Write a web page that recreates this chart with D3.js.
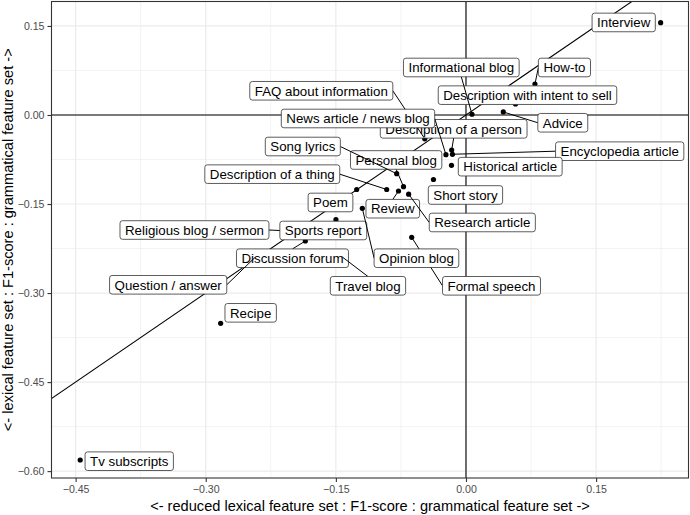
<!DOCTYPE html>
<html>
<head>
<meta charset="utf-8">
<script src="https://cdn.jsdelivr.net/npm/d3@7/dist/d3.min.js"></script>
<style>
  body { margin: 0; background: #fff; }
  text { font-family: "Liberation Sans", Arial, Helvetica, sans-serif; }
</style>
</head>
<body>
<svg id="chart" width="690" height="515"></svg>
<script>
// genres, in the order the labels are drawn
const genres = [
  "Interview", "Description with intent to sell", "Informational blog", "How-to",
  "Advice", "Description of a person", "FAQ about information", "News article / news blog",
  "Encyclopedia article", "Historical article", "Personal blog", "Song lyrics",
  "Description of a thing", "Short story", "Poem", "Review", "Research article",
  "Religious blog / sermon", "Sports report", "Formal speech", "Opinion blog",
  "Discussion forum", "Question / answer", "Travel blog", "Recipe", "Tv subscripts"
];

// F1 difference: grammatical - reduced lexical
const reducedLexDiff = [
  0.2244, 0.0571, 0.0069, 0.0795, 0.0430, -0.0165, -0.0475, -0.0231,
  -0.0156, -0.0167, -0.0720, -0.0799, -0.0914, -0.0375, -0.1260, -0.0778, -0.0661,
  -0.2006, -0.1499, -0.0626, -0.1195, -0.1852, -0.2421, -0.1441, -0.2828, -0.4447
];
// F1 difference: grammatical - lexical
const lexDiff = [
  0.1555, 0.0185, 0.0012, 0.0522, 0.0051, -0.0590, -0.0401, -0.0669,
  -0.0662, -0.0848, -0.1208, -0.0989, -0.1255, -0.1087, -0.1255, -0.1281, -0.1334,
  -0.1955, -0.1764, -0.2061, -0.1572, -0.2123, -0.2384, -0.2376, -0.3510, -0.5813
];

// where the repelled labels ended up (data units)
const labelX = [
  0.1818, 0.0709, -0.0054, 0.1135, 0.1116, -0.0142, -0.1668, -0.1245,
  0.1772, 0.0510, -0.0805, -0.1881, -0.2233, -0.0006, -0.1562, -0.0844, 0.0188,
  -0.3130, -0.1645, 0.0294, -0.0571, -0.2000, -0.3433, -0.1130, -0.2482, -0.3882
];
const labelY = [
  0.1559, 0.0334, 0.0800, 0.0800, -0.0131, -0.0233, 0.0408, -0.0059,
  -0.0610, -0.0871, -0.0758, -0.0531, -0.0997, -0.1348, -0.1474, -0.1579, -0.1811,
  -0.1938, -0.1946, -0.2878, -0.2413, -0.2413, -0.2861, -0.2878, -0.3333, -0.5833
];

const xTicks = [-0.45, -0.30, -0.15, 0.00, 0.15];
const yTicks = [0.15, 0.00, -0.15, -0.30, -0.45, -0.60];
const xMinor = [-0.375, -0.225, -0.075, 0.075, 0.225];
const yMinor = [0.075, -0.075, -0.225, -0.375, -0.525];

const data = genres.map((g, i) => ({
  genre: g,
  x: reducedLexDiff[i],
  y: lexDiff[i],
  lx: labelX[i],
  ly: labelY[i]
}));

// Base

const svg = d3.select("#chart");
const pLeft = 51.5, pRight = 688.5, pTop = 1.5, pBottom = 478;

const xScale = d3.scaleLinear().domain([-0.4778, 0.2565]).range([pLeft, pRight]);
const yScale = d3.scaleLinear().domain([-0.6116, 0.1912]).range([pBottom, pTop]);

svg.append("clipPath").attr("id", "panel-clip")
  .append("rect")
  .attr("x", pLeft).attr("y", pTop)
  .attr("width", pRight - pLeft).attr("height", pBottom - pTop);

svg.append("rect")
  .attr("x", pLeft).attr("y", pTop)
  .attr("width", pRight - pLeft).attr("height", pBottom - pTop)
  .attr("fill", "#fff");

// Grid

const grid = svg.append("g").attr("id", "grid");

grid.selectAll(".minor-x").data(xMinor).enter().append("line")
  .attr("x1", (d) => xScale(d)).attr("x2", (d) => xScale(d))
  .attr("y1", pTop).attr("y2", pBottom)
  .attr("stroke", "#ebebeb").attr("stroke-width", 0.6);

grid.selectAll(".minor-y").data(yMinor).enter().append("line")
  .attr("y1", (d) => yScale(d)).attr("y2", (d) => yScale(d))
  .attr("x1", pLeft).attr("x2", pRight)
  .attr("stroke", "#ebebeb").attr("stroke-width", 0.6);

grid.selectAll(".major-x").data(xTicks).enter().append("line")
  .attr("x1", (d) => xScale(d)).attr("x2", (d) => xScale(d))
  .attr("y1", pTop).attr("y2", pBottom)
  .attr("stroke", "#ebebeb").attr("stroke-width", 1.2);

grid.selectAll(".major-y").data(yTicks).enter().append("line")
  .attr("y1", (d) => yScale(d)).attr("y2", (d) => yScale(d))
  .attr("x1", pLeft).attr("x2", pRight)
  .attr("stroke", "#ebebeb").attr("stroke-width", 1.2);

// Reference lines

const refs = svg.append("g").attr("clip-path", "url(#panel-clip)");

refs.append("line")
  .attr("x1", pLeft).attr("x2", pRight)
  .attr("y1", yScale(0)).attr("y2", yScale(0))
  .attr("stroke", "#000").attr("stroke-width", 1.1);

refs.append("line")
  .attr("x1", xScale(0)).attr("x2", xScale(0))
  .attr("y1", pTop).attr("y2", pBottom)
  .attr("stroke", "#000").attr("stroke-width", 1.1);

// y = x
refs.append("line")
  .attr("x1", xScale(-0.7)).attr("y1", yScale(-0.7))
  .attr("x2", xScale(0.3)).attr("y2", yScale(0.3))
  .attr("stroke", "#000").attr("stroke-width", 1.1);

// Points

svg.append("g").attr("id", "points")
  .selectAll("circle").data(data).enter().append("circle")
  .attr("cx", (d) => xScale(d.x))
  .attr("cy", (d) => yScale(d.y))
  .attr("r", 2.6)
  .attr("fill", "#000");

// Labels (segment + box + text, drawn one after another like ggrepel)

const labels = svg.append("g").attr("id", "labels");
const boxH = 18.6, padX = 5;

data.forEach((d) => {
  const g = labels.append("g");
  const seg = g.append("line");
  const rect = g.append("rect");
  const cx = xScale(d.lx), cy = yScale(d.ly);
  const txt = g.append("text")
    .attr("x", cx).attr("y", cy)
    .attr("dy", "0.36em")
    .attr("text-anchor", "middle")
    .style("font-size", "13.3px")
    .attr("fill", "#000")
    .text(d.genre);

  const w = txt.node().getComputedTextLength() + 2 * padX;
  const x0 = cx - w / 2, x1 = cx + w / 2;
  const y0 = cy - boxH / 2, y1 = cy + boxH / 2;

  rect.attr("x", x0).attr("y", y0)
    .attr("width", w).attr("height", boxH)
    .attr("rx", 2.5)
    .attr("fill", "#fff")
    .attr("stroke", "#333").attr("stroke-width", 0.8);

  const px = xScale(d.x), py = yScale(d.y);
  const nx = Math.max(x0, Math.min(x1, px));
  const ny = Math.max(y0, Math.min(y1, py));
  if (Math.hypot(px - nx, py - ny) > 7.5) {
    let sx, sy;
    if (px < x0 || px > x1) {
      sx = px < x0 ? x0 : x1;
      sy = cy;
    } else {
      sx = cx;
      sy = py < y0 ? y0 : y1;
    }
    const len = Math.hypot(px - sx, py - sy);
    const k = (len - 1.5) / len;
    seg.attr("x1", sx).attr("y1", sy)
      .attr("x2", sx + (px - sx) * k).attr("y2", sy + (py - sy) * k)
      .attr("stroke", "#000").attr("stroke-width", 1);
  } else {
    seg.remove();
  }
});

// Border and axes

svg.append("rect")
  .attr("x", pLeft).attr("y", pTop)
  .attr("width", pRight - pLeft).attr("height", pBottom - pTop)
  .attr("fill", "none")
  .attr("stroke", "#333").attr("stroke-width", 1.1);

const xAxis = d3.axisBottom(xScale)
  .tickValues(xTicks)
  .tickFormat(d3.format(".2f"))
  .tickSize(4).tickPadding(3);

const yAxis = d3.axisLeft(yScale)
  .tickValues(yTicks)
  .tickFormat(d3.format(".2f"))
  .tickSize(4).tickPadding(3);

const gx = svg.append("g")
  .attr("transform", `translate(0, ${pBottom})`)
  .call(xAxis);
const gy = svg.append("g")
  .attr("transform", `translate(${pLeft}, 0)`)
  .call(yAxis);

[gx, gy].forEach((ax) => {
  ax.select(".domain").remove();
  ax.selectAll(".tick line").attr("stroke", "#333").attr("stroke-width", 1.1);
  ax.selectAll(".tick text")
    .attr("fill", "#4d4d4d")
    .style("font-size", "10.6px")
    .style("font-family", '"Liberation Sans", Arial, sans-serif');
});

svg.append("text")
  .attr("x", (pLeft + pRight) / 2)
  .attr("y", 511)
  .attr("text-anchor", "middle")
  .style("font-size", "14.6px")
  .attr("fill", "#000")
  .text("<- reduced lexical feature set : F1-score : grammatical feature set ->");

svg.append("text")
  .attr("transform", `translate(13, ${(pTop + pBottom) / 2}) rotate(-90)`)
  .attr("text-anchor", "middle")
  .style("font-size", "14.6px")
  .attr("fill", "#000")
  .text("<- lexical feature set : F1-score : grammatical feature set ->");
</script>
</body>
</html>
